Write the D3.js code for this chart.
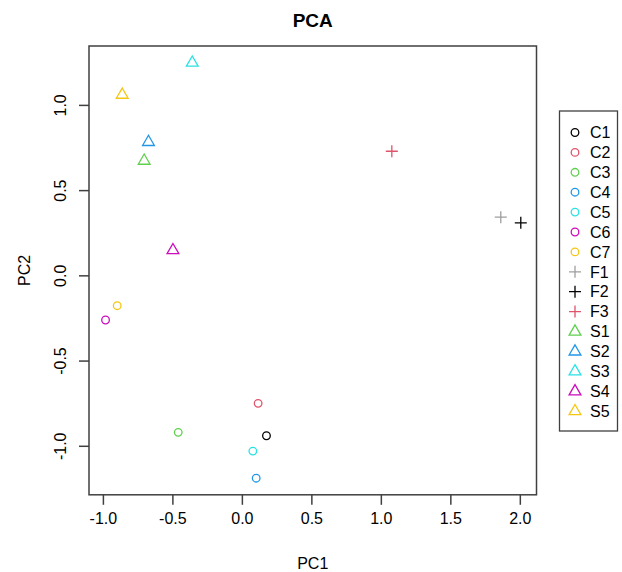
<!DOCTYPE html>
<html>
<head>
<meta charset="utf-8">
<script src="https://cdn.jsdelivr.net/npm/d3@7"></script>
<style>
  body { margin: 0; background: #fff; }
  text { font-family: "Liberation Sans", Arial, sans-serif; fill: #000; }
</style>
</head>
<body>
<div id="chart"></div>
<script>
// sample names, scores and groups
var samples = ["C1", "C2", "C3", "C4", "C5", "C6", "C7", "F1", "F2", "F3", "S1", "S2", "S3", "S4", "S5"];
var pc1 = [0.177, 0.117, -0.458, 0.103, 0.079, -0.981, -0.897, 1.863, 2.007, 1.079, -0.703, -0.672, -0.357, -0.496, -0.861];
var pc2 = [-0.941, -0.751, -0.921, -1.19, -1.031, -0.262, -0.178, 0.341, 0.308, 0.728, 0.673, 0.783, 1.248, 0.148, 1.06];
var shapes = ["circle", "circle", "circle", "circle", "circle", "circle", "circle",
              "plus", "plus", "plus", "tri", "tri", "tri", "tri", "tri"];
var colours = ["#000000", "#DF536B", "#61D04F", "#2297E6", "#28E2E5", "#CD0BBC", "#F5C710",
               "#9E9E9E", "#000000", "#DF536B", "#61D04F", "#2297E6", "#28E2E5", "#CD0BBC", "#F5C710"];
var xTicks = [-1.0, -0.5, 0.0, 0.5, 1.0, 1.5, 2.0];
var yTicks = [-1.0, -0.5, 0.0, 0.5, 1.0];

var width = 622,
    height = 572;

// plot box edges
var boxLeft = 89, boxRight = 536.5, boxTop = 46, boxBottom = 494.8;

var svg = d3.select("#chart").append("svg")
    .attr("width", width)
    .attr("height", height);

var x = d3.scaleLinear().domain([-1.10, 2.12]).range([boxLeft, boxRight]);
var y = d3.scaleLinear().domain([-1.2875, 1.3455]).range([boxBottom, boxTop]);

var fmt = function(d) { return d3.format(".1f")(d).replace("\u2212", "-"); };

// marker paths like R's pch 1, 3 and 2
function marker(shape) {
  if (shape == "circle") return "M3.8,0A3.8,3.8,0,1,1,-3.8,0A3.8,3.8,0,1,1,3.8,0Z";
  if (shape == "plus") return "M-6,0H6M0,-6V6";
  return "M0,-6.6L5.9,3.6L-5.9,3.6Z";
}

function drawMarker(g, shape, colour) {
  g.append("path")
    .attr("d", marker(shape))
    .attr("fill", "none")
    .attr("stroke", colour)
    .attr("stroke-width", 1.3);
}

// plot box
svg.append("rect")
  .attr("x", boxLeft).attr("y", boxTop)
  .attr("width", boxRight - boxLeft).attr("height", boxBottom - boxTop)
  .attr("fill", "none")
  .attr("stroke", "#404040")
  .attr("stroke-width", 1.5);

// axes
var xAxis = svg.append("g")
  .attr("transform", "translate(0," + boxBottom + ")")
  .call(d3.axisBottom(x).tickValues(xTicks).tickFormat(fmt).tickSize(10).tickPadding(8));
var yAxis = svg.append("g")
  .attr("transform", "translate(" + boxLeft + ",0)")
  .call(d3.axisLeft(y).tickValues(yTicks).tickFormat(fmt).tickSize(10).tickPadding(8));

[xAxis, yAxis].forEach(function(a) {
  a.select(".domain").remove();
  a.selectAll("line").attr("stroke", "#404040").attr("stroke-width", 1.5);
  a.selectAll("text").style("font-size", "16px").attr("fill", "#000");
});
yAxis.selectAll("text")
  .attr("text-anchor", "middle")
  .attr("x", null)
  .attr("transform", "translate(-29,0) rotate(-90)")
  .attr("dy", "0.35em");

// points
samples.forEach(function(s, i) {
  var g = svg.append("g").attr("transform", "translate(" + x(pc1[i]) + "," + y(pc2[i]) + ")");
  drawMarker(g, shapes[i], colours[i]);
});

// titles
svg.append("text")
  .attr("x", (boxLeft + boxRight) / 2).attr("y", 27)
  .attr("text-anchor", "middle")
  .style("font-size", "19px").style("font-weight", "bold")
  .text("PCA");
svg.append("text")
  .attr("x", (boxLeft + boxRight) / 2).attr("y", 569)
  .attr("text-anchor", "middle")
  .style("font-size", "16px")
  .text("PC1");
svg.append("text")
  .attr("transform", "translate(30," + (boxTop + boxBottom) / 2 + ") rotate(-90)")
  .attr("text-anchor", "middle")
  .style("font-size", "16px")
  .text("PC2");

// legend
var legend = svg.append("g");
legend.append("rect")
  .attr("x", 559.5).attr("y", 111)
  .attr("width", 58).attr("height", 320)
  .attr("fill", "#fff")
  .attr("stroke", "#404040")
  .attr("stroke-width", 1.3);
samples.forEach(function(s, i) {
  var row = legend.append("g").attr("transform", "translate(575," + (132.5 + i * 19.9) + ")");
  drawMarker(row, shapes[i], colours[i]);
  row.append("text")
    .attr("x", 15).attr("dy", "0.36em")
    .style("font-size", "16px")
    .text(s);
});
</script>
</body>
</html>
